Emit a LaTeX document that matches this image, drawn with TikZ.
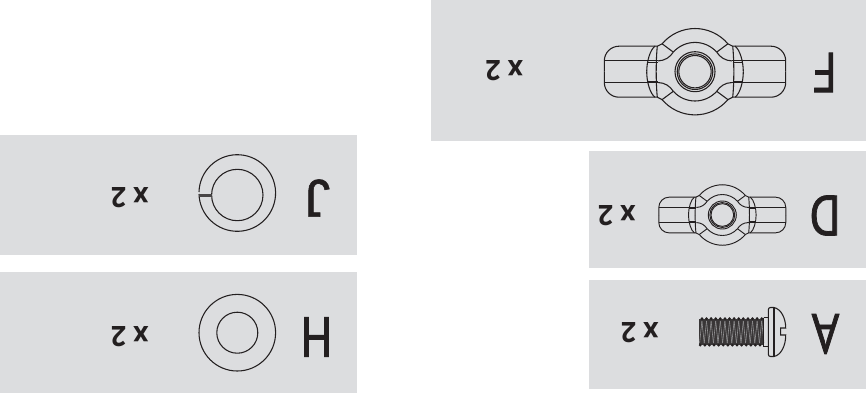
\documentclass[tikz,border=0pt]{standalone}
\usepackage{fontspec}
\newfontfamily\letterfont[FakeBold=1.5]{PT Sans}
\newfontfamily\jfont[FakeBold=1]{Liberation Sans}
\newfontfamily\countfont{Open Sans}
\definecolor{panel}{HTML}{DCDDDF}
\definecolor{ink}{HTML}{231F20}
\tikzset{
  letterlabel/.style={rotate=180,inner sep=0pt,text=ink,font=\fontsize{42}{42}\letterfont,xscale=.86},
  hooklabel/.style={rotate=180,inner sep=0pt,text=ink,font=\fontsize{40}{40}\jfont,xscale=.95},
  countlabel/.style={rotate=180,inner sep=0pt,text=ink,font=\fontsize{21}{21}\countfont\bfseries,xscale=.95},
  partline/.style={draw=ink,line width=.8pt}
}
\newcommand\wingnut[4]{%
\begin{scope}[shift={(#1,#2)},scale=#3,draw=ink,line width=#4]
  \foreach \s in {1,-1}{\foreach \t in {1,-1}{
    \begin{scope}[xscale=\s,yscale=\t]
      \draw (40,25.5) -- (76,25.5) arc[start angle=90,end angle=0,radius=14.7] -- (90.7,0);
      \draw (37,10.8) -- (90.7,10.8);
      \draw (37.5,9.6) -- (48,9.6);
      \draw (37.7,25.5) -- (40,25.5) .. controls (45,22) and (48.3,10) .. (48.3,0);
      \draw (37.7,25.5) .. controls (38.5,18) and (38.8,8) .. (38.8,0);
      \draw (32.9,27.9) arc[start angle=40.3,end angle=90,radius=43.3];
      \draw (32.9,27.9) -- (37.7,25.5);
      \draw (21.7,19.6) arc[start angle=42,end angle=90,radius=29.3];
      \draw (21.7,19.6) .. controls (25,14.5) and (30,11) .. (37,10.8);
      \draw (21.7,19.6) -- (32.9,27.9);
    \end{scope}}}
  \draw (0,0) circle[radius=20];
  \draw (0,0) circle[radius=17.8];
  \draw (0,0) circle[radius=16.2];
\end{scope}}
\begin{document}
\begin{tikzpicture}[x=.75pt,y=-.75pt]
\useasboundingbox (0,0) rectangle (866,401);
\fill[panel] (431,0) rectangle (866,141);
\fill[panel] (589,151) rectangle (866,268);
\fill[panel] (589,280) rectangle (866,389);
\fill[panel] (0,135) rectangle (357,255);
\fill[panel] (0,272) rectangle (357,393);
% wing nuts
\wingnut{695}{71.7}{1}{.8pt}
\wingnut{722.3}{215}{.7}{.7pt}
% screw
\begin{scope}
  \fill[ink!88!panel] (699.3,319) rectangle (763.5,345);
  \foreach \i in {0,...,13}{
    \pgfmathsetmacro\xa{699.6+\i*4.6}
    \pgfmathsetmacro\xb{\xa+2.3}
    \pgfmathsetmacro\xc{\xa+4.6}
    \fill[ink] (\xb,318.6) ellipse[x radius=1.5,y radius=1.5];
    \fill[ink] (\xa+.6,345.2) ellipse[x radius=1.5,y radius=1.5];
    \draw[panel!60!ink,line width=.45pt] (\xb,321) -- (\xa,343);
    \draw[panel!60!ink,line width=.45pt] (\xb,321) -- (\xc,343);
  }
  \draw[partline] (763.5,317.5) -- (768.3,317.5) (763.5,346.5) -- (768.3,346.5) (763.5,317.5) -- (763.5,346.5);
  \draw[partline] (774,307.5) -- (770.5,307.5) .. controls (769,307.5) and (768.3,308.5) .. (768.3,310) -- (768.3,354)
     .. controls (768.3,355.5) and (769,356.5) .. (770.5,356.5) -- (774,356.5);
  \draw[partline] (774,307.5) -- (774,356.5);
  \draw[partline] (774,307.5) .. controls (781,309) and (785.7,318) .. (785.7,328) -- (780.7,328) -- (780.7,335) -- (785.7,335)
     .. controls (785.7,346) and (781,355) .. (774,356.5);
\end{scope}
% split washer
\draw[partline] (237.3,195) circle[radius=25.7];
\draw[partline] (199,194) arc[start angle=178.5,end angle=-178.5,radius=38.3];
\fill[ink!80!panel] (199,194) rectangle (211.7,196.7);
% flat washer
\draw[partline] (237.3,332.7) circle[radius=38.3];
\draw[partline] (237.3,332.7) circle[radius=20.5];
% labels
\node[letterlabel] (lf) at (824.5,72.5) {F};
\node[letterlabel] (ld) at (825,215.5) {D};
\node[letterlabel] (la) at (825.5,334) {A};
\node[hooklabel] (lj) at (317.5,198) {J};
\node[letterlabel] (lh) at (316.5,337) {H};
\node[countlabel] (cf) at (504.5,71) {x 2};
\node[countlabel] (cd) at (617,215.5) {x 2};
\node[countlabel] (ca) at (640,333) {x 2};
\node[countlabel] (cj) at (130,198) {x 2};
\node[countlabel] (ch) at (130,337) {x 2};
\end{tikzpicture}
\end{document}
